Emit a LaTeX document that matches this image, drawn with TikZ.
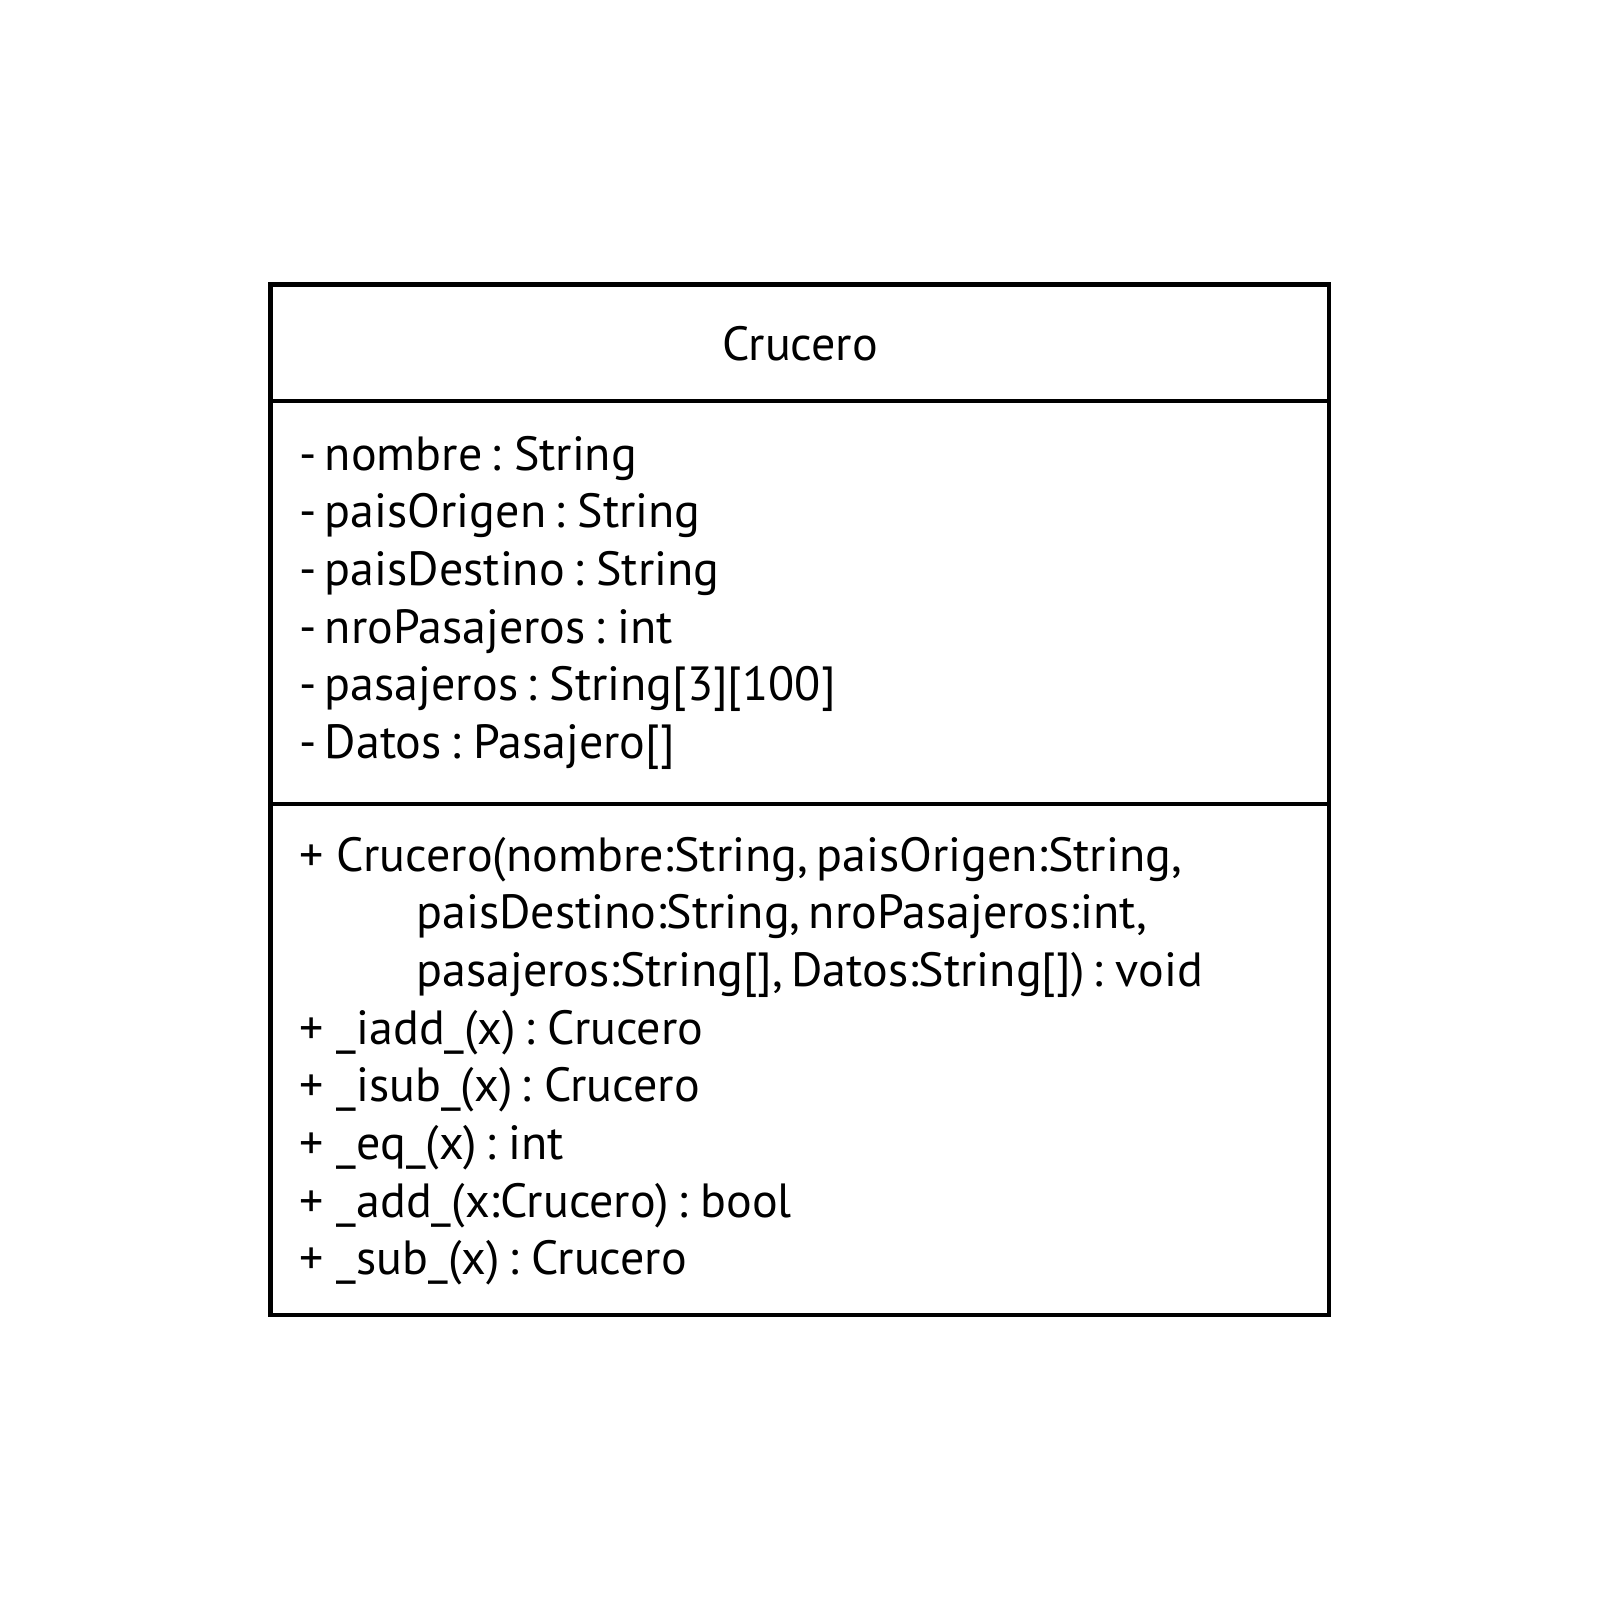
\documentclass[tikz,border=0pt]{standalone}
\usepackage{fontspec}
\setmainfont{PT Sans}[WordSpace=0.65]
\newcommand{\umlplus}{+\ \kern2.5pt}
\begin{document}
\begin{tikzpicture}[x=0.5pt,y=-0.5pt,
  boxline/.style={line width=2.3pt, black},
  txt/.style={anchor=base west, inner sep=0pt, font=\fontsize{24}{28}\selectfont},
  ttl/.style={anchor=base, inner sep=0pt, font=\fontsize{24}{28}\selectfont}]
\useasboundingbox[fill=white] (0,0) rectangle (1600,1600);
\coordinate (tl) at (270.5,284.5);
\coordinate (br) at (1329,1315);
\coordinate (d1l) at (270.5,401);
\coordinate (d1r) at (1329,401);
\coordinate (d2l) at (270.5,804);
\coordinate (d2r) at (1329,804);
\draw[boxline] (tl) rectangle (br);
\draw[boxline] (d1l) -- (d1r);
\draw[boxline] (d2l) -- (d2r);
\node[ttl] (title) at (800,360) {Crucero};
\node[txt] (a1) at (299,470) {- nombre : String};
\node[txt] (a2) at (299,527.7) {- paisOrigen : String};
\node[txt] (a3) at (299,585.4) {- paisDestino : String};
\node[txt] (a4) at (299,643.1) {- nroPasajeros : int};
\node[txt] (a5) at (299,700.8) {- pasajeros : String[3][100]};
\node[txt] (a6) at (299,758.5) {- Datos : Pasajero[]};
\node[txt] (m1) at (299,871) {\umlplus Crucero(nombre:String, paisOrigen:String,};
\node[txt] (m1b) at (416,928.7) {paisDestino:String, nroPasajeros:int,};
\node[txt] (m1c) at (416,986.4) {pasajeros:String[], Datos:String[]) : void};
\node[txt] (m2) at (299,1044.1) {\umlplus \_iadd\_(x) : Crucero};
\node[txt] (m3) at (299,1101.8) {\umlplus \_isub\_(x) : Crucero};
\node[txt] (m4) at (299,1159.5) {\umlplus \_eq\_(x) : int};
\node[txt] (m5) at (299,1217.2) {\umlplus \_add\_(x:Crucero) : bool};
\node[txt] (m6) at (299,1274.9) {\umlplus \_sub\_(x) : Crucero};
\end{tikzpicture}
\end{document}
